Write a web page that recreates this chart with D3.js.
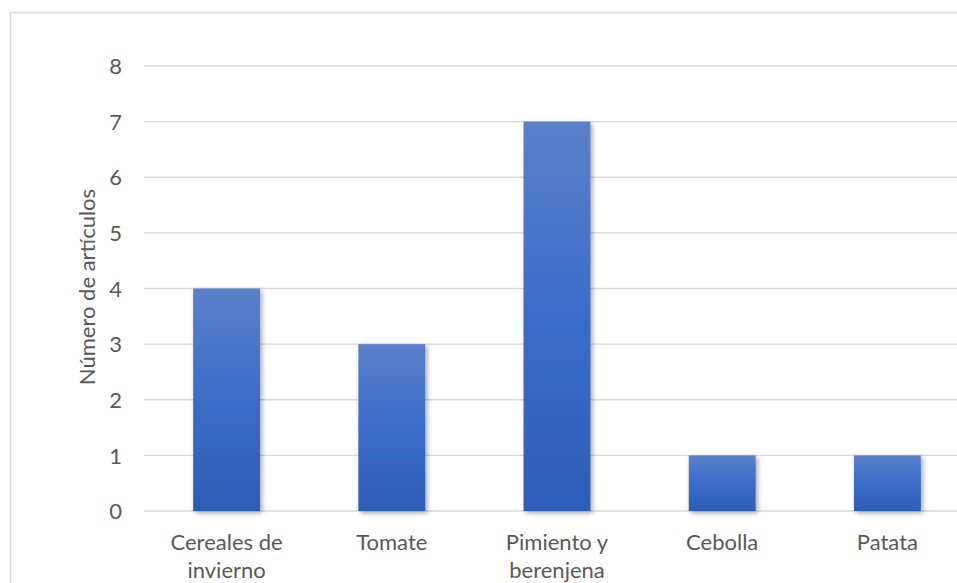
<!DOCTYPE html>
<html><head><meta charset="utf-8">
<script src="https://cdn.jsdelivr.net/npm/d3@7"></script>
<style>html,body{margin:0;padding:0;background:#fff;overflow:hidden}</style>
</head><body>
<script>
const categories = [["Cereales de","invierno"],["Tomate"],["Pimiento y","berenjena"],["Cebolla"],["Patata"]];
const values = [4, 3, 7, 1, 1];
const yTicks = [0,1,2,3,4,5,6,7,8];
const yTitle = "Número de artículos";

const W = 957, H = 583;
const svg = d3.select("body").append("svg").attr("width", W).attr("height", H);
const FONT = "Lato, 'Open Sans', sans-serif";
const FS = 22;

const defs = svg.append("defs");
const grad = defs.append("linearGradient").attr("id","barGrad").attr("x1",0).attr("y1",0).attr("x2",0).attr("y2",1);
grad.append("stop").attr("offset","0%").attr("stop-color","#5b80c9");
grad.append("stop").attr("offset","50%").attr("stop-color","#3a6cc9");
grad.append("stop").attr("offset","100%").attr("stop-color","#2d5db6");
const f = defs.append("filter").attr("id","shadow").attr("x","-20%").attr("y","-20%").attr("width","150%").attr("height","150%");
f.append("feDropShadow").attr("dx",2).attr("dy",2).attr("stdDeviation",2.5).attr("flood-color","#000").attr("flood-opacity",0.35);

// chart border
svg.append("rect").attr("x",10.5).attr("y",12.5).attr("width",W+20).attr("height",H+20)
  .attr("fill","none").attr("stroke","#d9d9d9").attr("stroke-width",1.5);

const x = d3.scaleBand().domain(d3.range(categories.length)).range([144, 970]).paddingInner(0.595).paddingOuter(0.2975);
const y = d3.scaleLinear().domain([0,8]).range([511, 66]);

// gridlines
svg.append("g").selectAll("line").data(yTicks).join("line")
  .attr("x1",144).attr("x2",W).attr("y1",d=>y(d)).attr("y2",d=>y(d))
  .attr("stroke","#d9d9d9").attr("stroke-width",1.3);

// y axis labels
const yAxis = d3.axisLeft(y).tickValues(yTicks).tickSize(0).tickPadding(0);
const gy = svg.append("g").attr("transform","translate(122,0)").call(yAxis);
gy.select(".domain").remove();
gy.selectAll("text").attr("font-family",FONT).attr("font-size",FS).attr("fill","#595959").attr("dy","0.35em");

// bars
svg.append("g").selectAll("rect").data(values).join("rect")
  .attr("x",(d,i)=>x(i)).attr("width",x.bandwidth())
  .attr("y",d=>y(d)).attr("height",d=>y(0)-y(d))
  .attr("fill","url(#barGrad)").attr("filter","url(#shadow)");

// x labels
const gx = svg.append("g");
categories.forEach((lines,i)=>{
  const t = gx.append("text").attr("x",x(i)+x.bandwidth()/2).attr("y",550)
    .attr("text-anchor","middle").attr("font-family",FONT).attr("font-size",FS).attr("fill","#595959");
  lines.forEach((l,j)=>t.append("tspan").attr("x",x(i)+x.bandwidth()/2).attr("dy", j?28:0).text(l));
});

// y title
svg.append("text").attr("transform","translate(95,287) rotate(-90)").attr("text-anchor","middle")
  .attr("font-family",FONT).attr("font-size",FS).attr("fill","#595959").text(yTitle);
</script>
</body></html>
